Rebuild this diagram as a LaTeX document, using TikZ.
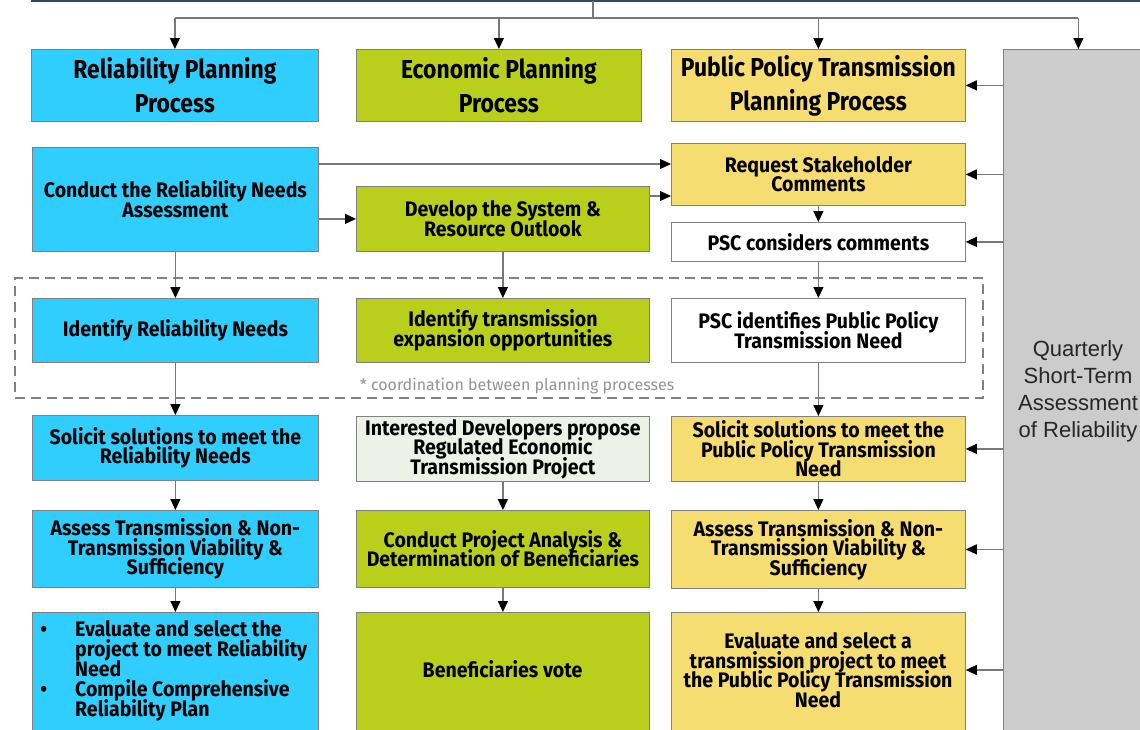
\documentclass[tikz,border=0pt]{standalone}
\usepackage{fontspec}
\setmainfont{Fira Sans}
\newfontfamily\cf{Fira Sans}[FakeStretch=0.93]
\newfontfamily\tf{Fira Sans}[FakeStretch=0.88]
\newfontfamily\lf{Fira Sans}
\newfontfamily\arial{Liberation Sans}
\newcommand{\tightlines}{\lineskiplimit=-30pt\lineskip=0pt}
\usetikzlibrary{arrows.meta,calc}
\definecolor{cyanbox}{RGB}{48,206,255}
\definecolor{greenbox}{RGB}{185,207,28}
\definecolor{yellowbox}{RGB}{246,221,114}
\definecolor{palebox}{RGB}{238,242,230}
\definecolor{graybox}{RGB}{204,204,204}
\definecolor{boxline}{RGB}{128,128,128}
\definecolor{lineg}{RGB}{120,120,120}
\definecolor{topline}{RGB}{45,75,95}
\tikzset{
  box/.style={draw=boxline, line width=0.8pt, rectangle, inner sep=2pt, align=center,
    anchor=north west, font=\cf\bfseries\fontsize{21}{19.5}\selectfont\tightlines},
  ttl/.style={box, font=\tf\bfseries\fontsize{26}{34}\selectfont\tightlines},
  txt/.style={inner sep=0pt, align=center, font=\cf\bfseries\fontsize{21}{19.5}\selectfont\tightlines},
  conn/.style={draw=lineg, line width=1.2pt, -{Triangle[length=11pt,width=10pt,color=black]}},
  plain/.style={draw=lineg, line width=1.2pt},
}
\begin{document}
\begin{tikzpicture}[x=1pt,y=-1pt]
\useasboundingbox (0,0) rectangle (1140,729);
\clip (0,0) rectangle (1140,729);
\fill[white] (0,0) rectangle (1140,729);

% dashed coordination frame
\node[draw=boxline, line width=1.8pt, dash pattern=on 10pt off 6pt, rectangle, inner sep=0pt,
  minimum width=968pt, minimum height=120pt, anchor=north west] (coordbox) at (14,277) {};
\node[text=gray!85, font=\lf\fontsize{16}{17}\selectfont] (clab) at (517,386) {* coordination between planning processes};

% row 1
\node[ttl, fill=cyanbox, minimum width=287pt, minimum height=72pt] (rpp) at (31,49) {Reliability Planning\\Process};
\node[ttl, fill=greenbox, minimum width=285pt, minimum height=72pt] (epp) at (356,49) {Economic Planning\\Process};
\node[ttl, fill=yellowbox, minimum width=294pt, minimum height=72pt] (ppp) at (671,49) {Public Policy Transmission\\Planning Process};
\node[box, fill=graybox, minimum width=150pt, minimum height=720pt] (qst) at (1003,49) {};
\node[font=\arial\fontsize{22}{27}\selectfont, text=black!85, align=center] (qtxt) at (1078,391) {Quarterly\\Short-Term\\Assessment\\of Reliability};

% row 2
\node[box, fill=cyanbox, minimum width=286pt, minimum height=104pt] (cra) at (32,147) {Conduct the Reliability Needs\\Assessment};
\node[box, fill=greenbox, minimum width=293pt, minimum height=65pt] (dev) at (356,186) {Develop the System \&\\Resource Outlook};
\node[box, fill=yellowbox, minimum width=294pt, minimum height=62pt] (req) at (671,143) {Request Stakeholder\\Comments};
\node[box, fill=white, minimum width=294pt, minimum height=39pt] (psc) at (671,222) {PSC considers comments};

% row 3
\node[box, fill=cyanbox, minimum width=286pt, minimum height=64pt] (irn) at (32,298) {Identify Reliability Needs};
\node[box, fill=greenbox, minimum width=293pt, minimum height=64pt] (ito) at (356,298) {Identify transmission\\expansion opportunities};
\node[box, fill=white, minimum width=294pt, minimum height=64pt] (pid) at (671,298) {PSC identifies Public Policy\\Transmission Need};

% row 4
\node[box, fill=cyanbox, minimum width=286pt, minimum height=65pt] (srn) at (32,415) {Solicit solutions to meet the\\Reliability Needs};
\node[box, fill=palebox, minimum width=293pt, minimum height=65pt] (idp) at (356,416) {Interested Developers propose\\Regulated Economic\\Transmission Project};
\node[box, fill=yellowbox, minimum width=294pt, minimum height=65pt] (spp) at (671,416) {Solicit solutions to meet the\\Public Policy Transmission\\Need};

% row 5
\node[box, fill=cyanbox, minimum width=286pt, minimum height=77pt] (arn) at (32,510) {Assess Transmission \& Non-\\Transmission Viability \&\\Sufficiency};
\node[box, fill=greenbox, minimum width=293pt, minimum height=77pt] (cpa) at (356,510) {Conduct Project Analysis \&\\Determination of Beneficiaries};
\node[box, fill=yellowbox, minimum width=294pt, minimum height=78pt] (app) at (671,510) {Assess Transmission \& Non-\\Transmission Viability \&\\Sufficiency};

% row 6
\node[box, fill=cyanbox, minimum width=286pt, minimum height=140pt] (ern) at (32,612) {};
\node[box, fill=greenbox, minimum width=293pt, minimum height=140pt] (bv) at (356,612) {};
\node[box, fill=yellowbox, minimum width=294pt, minimum height=140pt] (epr) at (671,612) {};
\node[txt, align=left, anchor=north west, font=\cf\bfseries\fontsize{21}{20}\selectfont\tightlines] (erntxt) at (75,620)
  {\llap{\textbullet\hspace{28pt}}Evaluate and select the\\
   project to meet Reliability\\
   Need\\
   \llap{\textbullet\hspace{28pt}}Compile Comprehensive\\
   Reliability Plan};
\node[txt] (bvtxt) at (502.5,669) {Beneficiaries vote};
\node[txt] (eprtxt) at (818,670) {Evaluate and select a\\transmission project to meet\\the Public Policy Transmission\\Need};

% top tree
\coordinate (t0) at (31,1);
\coordinate (t1) at (1140,1);
\draw[topline, line width=2.5pt] (t0) -- (t1);
\coordinate (stem) at (593,1);
\coordinate (bar) at (593,18);
\draw[plain] (stem) -- (bar);
\draw[plain] (bar -| rpp.north) -- (bar -| qst.north);
\draw[conn] (bar -| rpp.north) -- (rpp.north);
\draw[conn] (bar -| epp.north) -- (epp.north);
\draw[conn] (bar -| ppp.north) -- (ppp.north);
\draw[conn] (bar -| qst.north) -- (qst.north);

% horizontal links row 2
\draw[conn] ([yshift=-17pt]cra.north east) -- ([yshift=-17pt]cra.north east -| req.west);
\draw[conn] (cra.east |- dev.west) -- (dev.west);
\draw[conn] ([yshift=-10pt]dev.north east) -- ([yshift=-10pt]dev.north east -| req.west);

% vertical links
\draw[conn] (req.south) -- (psc.north);
\draw[conn] (cra.south) -- (irn.north);
\draw[conn] (dev.south) -- (ito.north);
\draw[conn] (psc.south) -- (pid.north);
\draw[conn] (irn.south) -- (srn.north);
\draw[conn] (pid.south) -- (spp.north);
\draw[conn] (srn.south) -- (arn.north);
\draw[conn] (idp.south) -- (cpa.north);
\draw[conn] (spp.south) -- (app.north);
\draw[conn] (arn.south) -- (ern.north);
\draw[conn] (cpa.south) -- (bv.north);
\draw[conn] (app.south) -- (epr.north);

% links from the quarterly assessment
\draw[conn] (qst.west |- ppp.east) -- (ppp.east);
\draw[conn] (qst.west |- req.east) -- (req.east);
\draw[conn] (qst.west |- psc.east) -- (psc.east);
\draw[conn] (qst.west |- spp.east) -- (spp.east);
\draw[conn] (qst.west |- app.east) -- (app.east);
\draw[conn] (qst.west |- eprtxt) -- (eprtxt -| epr.east);
\end{tikzpicture}
\end{document}
